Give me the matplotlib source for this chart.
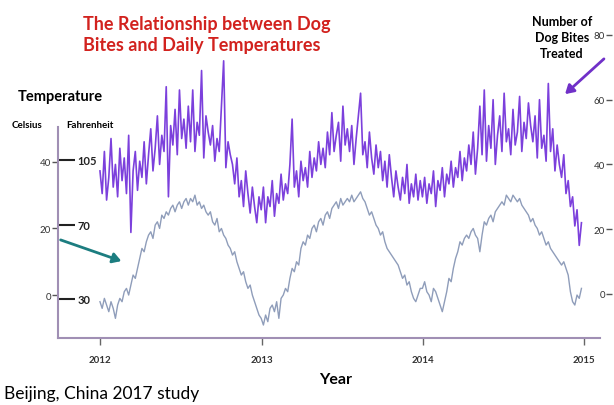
import numpy as np
import pandas as pd
import matplotlib
matplotlib.use("Agg")
import matplotlib.pyplot as plt

# dog bites per day, every 5 days
bites_2012 = [38, 31, 44, 29, 36, 48, 33, 40, 30, 45,
              35, 42, 31, 49, 19, 38, 44, 32, 41, 36,
              47, 34, 43, 51, 38, 45, 55, 40, 49, 44,
              64, 30, 52, 46, 57, 43, 63, 48, 54, 45,
              58, 47, 63, 44, 53, 49, 69, 42, 55, 50,
              46, 52, 41, 48, 44, 58, 72, 39, 47, 43,
              40, 34, 42, 30, 35, 27, 38, 31, 25, 33, 27, 22, 30]
bites_2013 = [26, 33, 22, 30, 27, 35, 24, 31, 28, 37,
              29, 34, 31, 40, 54, 33, 38, 30, 41, 35,
              39, 33, 44, 36, 42, 38, 47, 40, 45, 39,
              50, 43, 56, 44, 49, 53, 41, 58, 46, 51,
              44, 52, 40, 48, 55, 62, 43, 47, 39, 50,
              42, 37, 46, 39, 44, 35, 41, 33, 43, 36,
              30, 38, 33, 29, 36, 31, 40, 28, 34, 30, 37, 29, 35]
bites_2014 = [30, 36, 28, 34, 31, 38, 27, 35, 32, 39,
              30, 37, 34, 41, 33, 39, 36, 44, 35, 42,
              38, 46, 40, 50, 37, 45, 58, 43, 63, 41,
              52, 45, 60, 40, 49, 55, 44, 62, 47, 51,
              43, 57, 46, 50, 61, 44, 53, 48, 59, 52,
              47, 55, 42, 60, 45, 49, 41, 65, 44, 51,
              38, 46, 40, 36, 43, 31, 35, 27, 30, 21, 26, 15, 22]

# daily temperature (Celsius), same 5-day samples
temp_2012 = [-2, -4, -1, -3, -5, -2, -4, -7, -3, -1,
             -2, 1, 2, 0, 3, 6, 5, 8, 11, 14,
             13, 16, 18, 19, 17, 21, 22, 20, 24, 23,
             25, 24, 26, 27, 25, 27, 28, 26, 28, 29,
             27, 29, 28, 30, 27, 28, 26, 27, 25, 24,
             25, 22, 21, 23, 19, 20, 18, 17, 15, 14,
             12, 13, 10, 8, 6, 7, 4, 2, 3, 0, -2, -4, -6]
temp_2013 = [-7, -9, -6, -8, -4, -3, -5, -2, -7, -1,
             0, 2, 1, 5, 8, 7, 10, 9, 14, 16,
             15, 18, 17, 20, 21, 19, 22, 23, 21, 24,
             25, 23, 26, 27, 28, 26, 29, 27, 28, 29,
             28, 30, 28, 29, 30, 31, 29, 28, 26, 24,
             25, 23, 21, 20, 18, 19, 16, 14, 13, 12,
             11, 10, 9, 7, 5, 6, 3, 4, 1, -1, -2, 0, 2]
temp_2014 = [2, 4, 1, 0, -2, 2, 1, -1, -3, -5,
             -2, 1, 5, 4, 8, 11, 13, 16, 15, 17,
             18, 17, 19, 20, 18, 17, 13, 18, 22, 21,
             23, 24, 22, 25, 26, 27, 28, 27, 30, 29,
             28, 30, 29, 28, 29, 27, 26, 25, 24, 22,
             23, 21, 20, 18, 19, 17, 15, 16, 14, 13,
             12, 11, 10, 9, 10, 8, 6, 1, -2, -3, 0, -1, 2]

years = ["2012", "2013", "2014", "2015"]
celsius_ticks = [0, 20, 40]
fahrenheit_ticks = [30, 70, 105]
bite_ticks = [0, 20, 40, 60, 80]

bites = bites_2012 + bites_2013 + bites_2014
temps = temp_2012 + temp_2013 + temp_2014
dates = pd.date_range("2012-01-01", periods=len(temps), freq="5D")

plt.rcParams['font.family'] = ['Lato', 'DejaVu Sans']

W, H = 614, 406
fig = plt.figure(figsize=(W / 100, H / 100), dpi=100)
ax = fig.add_axes([58 / W, 67 / H, 542 / W, 329 / H])

ax.plot(dates, temps, color="#8f9dba", lw=1.0)
ax.set_xlim(pd.Timestamp("2011-09-28"), pd.Timestamp("2015-02-06"))
ax.set_ylim(-12.9, 85.9)

ax.spines["top"].set_visible(False)
ax.spines["right"].set_visible(False)
ax.spines["left"].set_bounds(-12.9, 50.4)
for s in ["left", "bottom"]:
    ax.spines[s].set_color("#a08fb4")
    ax.spines[s].set_linewidth(1.5)

ax.set_yticks(celsius_ticks)
ax.tick_params(axis="y", length=4, width=1, color="#555555", labelsize=7,
               labelcolor="#333333", pad=1)
ax.set_xticks(pd.to_datetime([y + "-01-01" for y in years]))
ax.set_xticklabels(years, fontweight="bold")
ax.tick_params(axis="x", length=5, width=1, color="#666666", labelsize=7,
               labelcolor="#333333", pad=7)

# Fahrenheit labels on the inside of the same spine
fax = ax.secondary_yaxis(0, functions=(lambda c: c * 9 / 5 + 32,
                                       lambda f: (f - 32) * 5 / 9))
fax.set_alignment("right")
for s in fax.spines.values():
    s.set_visible(False)
fax.set_yticks(fahrenheit_ticks)
fax.tick_params(axis="y", length=12, width=1.5, color="#222222",
                labelsize=8, labelcolor="#222222", pad=2)
for t in fax.get_yticklabels():
    t.set_fontweight("bold")

# dog bites on their own scale, labels at the right edge
bx = ax.twinx()
bx.plot(dates, bites, color="#7c40dc", lw=1.2)
bx.set_ylim(-13.6, 88.0)
for s in bx.spines.values():
    s.set_visible(False)
bx.spines["left"].set_position(("axes", (612 - 58) / 542))
bx.yaxis.set_ticks_position("left")
bx.set_yticks(bite_ticks)
bx.tick_params(axis="y", length=4, width=1, color="#555555", labelsize=7,
               labelcolor="#333333", pad=1)

# texts
fig.text(83 / W, 1 - 16 / H, "The Relationship between Dog\nBites and Daily Temperatures",
         color="#d2221e", fontsize=13, fontweight="bold", va="top", linespacing=1.3)
fig.text(18 / W, 1 - 97 / H, "Temperature", fontsize=10.5, fontweight="bold", va="center")
fig.text(12 / W, 1 - 125 / H, "Celsius", fontsize=7, fontweight="bold", va="center")
fig.text(66 / W, 1 - 125 / H, "Fahrenheit", fontsize=7, fontweight="bold", va="center")
fig.text(562 / W, 1 - 38 / H, "Number of\nDog Bites\nTreated", fontsize=9,
         fontweight="bold", ha="center", va="center", linespacing=1.35)
fig.text(336 / W, 1 - 380 / H, "Year", fontsize=11.5, fontweight="bold",
         ha="center", va="center")
fig.text(4 / W, 1 - 394 / H, "Beijing, China 2017 study", fontsize=12.5, va="center")

# arrows
fig.add_artist(matplotlib.patches.FancyArrowPatch(
    (606 / W, 1 - 58 / H), (563 / W, 1 - 97 / H), transform=fig.transFigure,
    arrowstyle="-|>,head_length=5,head_width=3", color="#7030c8", lw=2))
fig.add_artist(matplotlib.patches.FancyArrowPatch(
    (58 / W, 1 - 240 / H), (124 / W, 1 - 263 / H), transform=fig.transFigure,
    arrowstyle="-|>,head_length=5,head_width=3", color="#1c7d80", lw=2))

fig.savefig("out.png", dpi=100)
